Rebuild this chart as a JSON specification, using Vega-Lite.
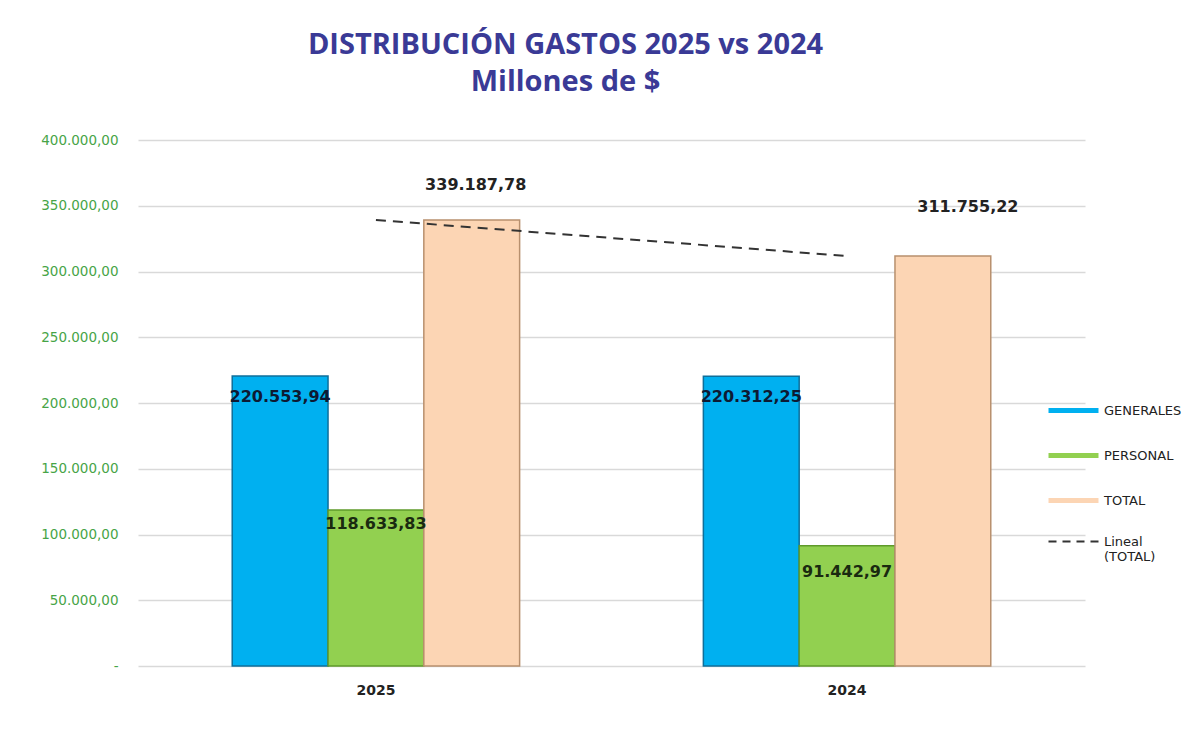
{
  "$schema": "https://vega.github.io/schema/vega-lite/v6.json",
  "width": 947,
  "height": 526,
  "autosize": {"type": "none"},
  "padding": {"left": 138, "top": 140, "right": 113, "bottom": 85},
  "background": "white",
  "config": {
    "locale": {"number": {"decimal": ",", "thousands": ".", "grouping": [3], "currency": ["$", ""]}},
    "view": {"stroke": null}
  },
  "title": {
    "text": ["DISTRIBUCIÓN GASTOS 2025 vs 2024", "Millones de $"],
    "font": "Open Sans",
    "fontSize": 29,
    "fontWeight": "bold",
    "color": "#3a3a96",
    "lineHeight": 37,
    "anchor": "middle",
    "dx": -46,
    "offset": 36
  },
  "data": {
    "values": [
      {"year": "2025", "series": "GENERALES", "value": 220553.94},
      {"year": "2025", "series": "PERSONAL", "value": 118633.83},
      {"year": "2025", "series": "TOTAL", "value": 339187.78},
      {"year": "2024", "series": "GENERALES", "value": 220312.25},
      {"year": "2024", "series": "PERSONAL", "value": 91442.97},
      {"year": "2024", "series": "TOTAL", "value": 311755.22}
    ]
  },
  "encoding": {
    "x": {
      "field": "year",
      "type": "nominal",
      "sort": ["2025", "2024"],
      "scale": {"paddingInner": 0.39, "paddingOuter": 0.2},
      "axis": {
        "title": null,
        "labelAngle": 0,
        "domain": false,
        "ticks": false,
        "labelFont": "DejaVu Sans",
        "labelFontWeight": "bold",
        "labelFontSize": 14,
        "labelColor": "#222222",
        "labelPadding": 17
      }
    },
    "y": {
      "field": "value",
      "type": "quantitative",
      "scale": {"domain": [0, 400000], "nice": false},
      "axis": {
        "title": null,
        "values": [0, 50000, 100000, 150000, 200000, 250000, 300000, 350000, 400000],
        "format": ",.2f",
        "labelExpr": "datum.value == 0 ? '-' : datum.label",
        "domain": false,
        "ticks": false,
        "labelPadding": 20,
        "labelFont": "DejaVu Sans",
        "labelFontSize": 13.5,
        "labelColor": "#47a447",
        "gridColor": "#d9d9d9",
        "gridWidth": 1.5
      }
    }
  },
  "layer": [
    {
      "mark": {"type": "bar", "strokeWidth": 1.5},
      "encoding": {
        "xOffset": {
          "field": "series",
          "type": "nominal",
          "scale": {"domain": ["GENERALES", "PERSONAL", "TOTAL"], "paddingInner": 0, "paddingOuter": 0}
        },
        "color": {
          "field": "series",
          "type": "nominal",
          "scale": {
            "domain": ["GENERALES", "PERSONAL", "TOTAL", "Lineal (TOTAL)"],
            "range": ["#00b0f0", "#92d050", "#fcd5b4", "#333333"]
          },
          "legend": {
            "orient": "none",
            "legendX": 929,
            "legendY": 264,
            "title": null,
            "symbolType": "stroke",
            "symbolSize": 2500,
            "symbolStrokeWidth": 5,
            "labelFont": "DejaVu Sans",
            "labelFontSize": 13,
            "labelColor": "#222222",
            "rowPadding": 24,
            "labelOffset": 24,
            "labelExpr": "datum.label == 'Lineal (TOTAL)' ? ['Lineal', '(TOTAL)'] : datum.label",
            "encode": {
              "symbols": {
                "update": {
                  "stroke": {"signal": "scale('color', datum.value)"},
                  "strokeDash": {"signal": "datum.value == 'Lineal (TOTAL)' ? [8, 6] : [1, 0]"},
                  "strokeWidth": {"signal": "datum.value == 'Lineal (TOTAL)' ? 2 : 5"}
                }
              }
            }
          }
        },
        "stroke": {
          "field": "series",
          "type": "nominal",
          "scale": {"domain": ["GENERALES", "PERSONAL", "TOTAL"], "range": ["#0f6f9a", "#5f9a2a", "#b8906e"]},
          "legend": null
        }
      }
    },
    {
      "transform": [{"filter": "datum.series == 'TOTAL'"}],
      "mark": {"type": "line", "strokeDash": [10, 7], "strokeWidth": 2},
      "encoding": {
        "color": {"datum": "Lineal (TOTAL)", "type": "nominal"}
      }
    },
    {
      "transform": [{"filter": "datum.series == 'GENERALES'"}],
      "mark": {"type": "text", "font": "DejaVu Sans", "fontWeight": "bold", "fontSize": 16, "color": "#0d1a33", "dy": 21, "baseline": "middle"},
      "encoding": {
        "xOffset": {"field": "series", "type": "nominal"},
        "text": {"field": "value", "type": "quantitative", "format": ",.2f"}
      }
    },
    {
      "transform": [{"filter": "datum.series == 'PERSONAL' && datum.year == '2025'"}],
      "mark": {"type": "text", "font": "DejaVu Sans", "fontWeight": "bold", "fontSize": 16, "color": "#1a2a10", "dy": 14, "baseline": "middle"},
      "encoding": {
        "xOffset": {"field": "series", "type": "nominal"},
        "text": {"field": "value", "type": "quantitative", "format": ",.2f"}
      }
    },
    {
      "transform": [{"filter": "datum.series == 'PERSONAL' && datum.year == '2024'"}],
      "mark": {"type": "text", "font": "DejaVu Sans", "fontWeight": "bold", "fontSize": 16, "color": "#1a2a10", "dy": 26, "baseline": "middle"},
      "encoding": {
        "xOffset": {"field": "series", "type": "nominal"},
        "text": {"field": "value", "type": "quantitative", "format": ",.2f"}
      }
    },
    {
      "transform": [{"filter": "datum.series == 'TOTAL' && datum.year == '2025'"}],
      "mark": {"type": "text", "font": "DejaVu Sans", "fontWeight": "bold", "fontSize": 16, "color": "#222222", "dy": -35, "dx": 4, "baseline": "middle"},
      "encoding": {
        "xOffset": {"field": "series", "type": "nominal"},
        "text": {"field": "value", "type": "quantitative", "format": ",.2f"}
      }
    },
    {
      "transform": [{"filter": "datum.series == 'TOTAL' && datum.year == '2024'"}],
      "mark": {"type": "text", "font": "DejaVu Sans", "fontWeight": "bold", "fontSize": 16, "color": "#222222", "dy": -49, "dx": 25, "baseline": "middle"},
      "encoding": {
        "xOffset": {"field": "series", "type": "nominal"},
        "text": {"field": "value", "type": "quantitative", "format": ",.2f"}
      }
    }
  ]
}
